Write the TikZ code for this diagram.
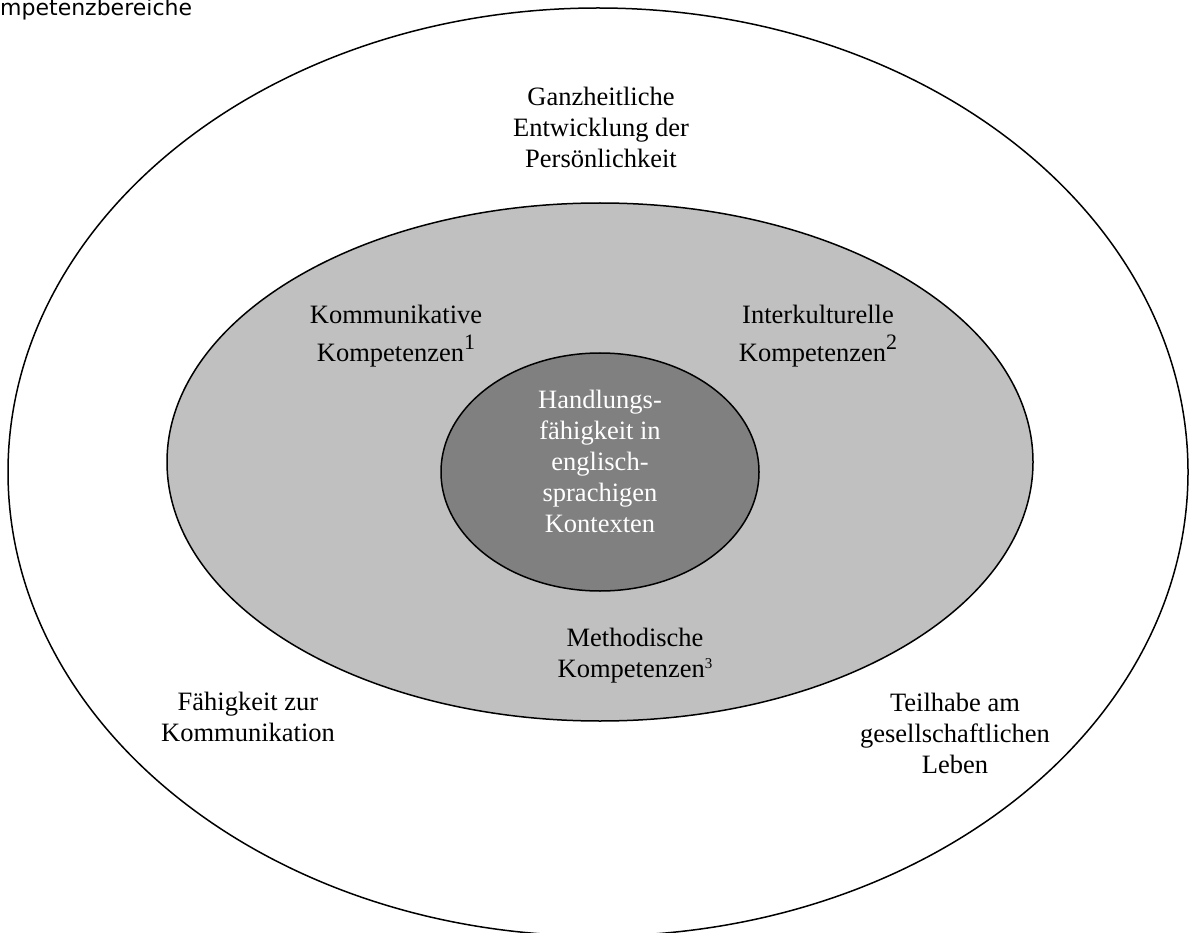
\documentclass[tikz,border=0pt]{standalone}
\usepackage{fontspec}
\setmainfont{Liberation Serif}
\newfontfamily\titlefont{DejaVu Sans}
\definecolor{ringgray}{HTML}{C0C0C0}
\definecolor{coregray}{HTML}{808080}
\newcommand\supbig[1]{\raisebox{12pt}{\fontsize{22}{22}\selectfont #1}}
\newcommand\supsmall[1]{\raisebox{9pt}{\fontsize{15}{15}\selectfont #1}}
\begin{document}
\begin{tikzpicture}[x=1pt,y=-1pt,
  lbl/.style={align=center, font=\fontsize{26.5}{31}\selectfont, inner sep=0pt, anchor=base},
  ring/.style={draw=black, line width=1.5pt}]
\clip (0,0) rectangle (1189,933);
\fill[white] (0,0) rectangle (1189,933);
\draw[ring] (598,472) ellipse [x radius=590pt, y radius=464pt];
\draw[ring, fill=ringgray] (600,462) ellipse [x radius=433pt, y radius=259pt];
\draw[ring, fill=coregray] (600,472) ellipse [x radius=159pt, y radius=119pt];
\node[font=\titlefont\fontsize{22}{26}\selectfont, anchor=base west, inner sep=0pt] (title) at (0,16) {mpetenzbereiche};
\node[lbl] (ganz) at (601,168) {Ganzheitliche\\Entwicklung der\\Persönlichkeit};
\node[lbl] (komm) at (396,362) {Kommunikative\\[8pt]Kompetenzen\supbig{1}};
\node[lbl] (inter) at (818,362) {Interkulturelle\\[8pt]Kompetenzen\supbig{2}};
\node[lbl, text=white] (core) at (600,532) {Handlungs-\\fähigkeit in\\englisch-\\sprachigen\\Kontexten};
\node[lbl] (meth) at (635,677) {Methodische\\Kompetenzen\supsmall{3}};
\node[lbl] (faeh) at (248,741) {Fähigkeit zur\\Kommunikation};
\node[lbl] (teil) at (955,773) {Teilhabe am\\gesellschaftlichen\\Leben};
\end{tikzpicture}
\end{document}
